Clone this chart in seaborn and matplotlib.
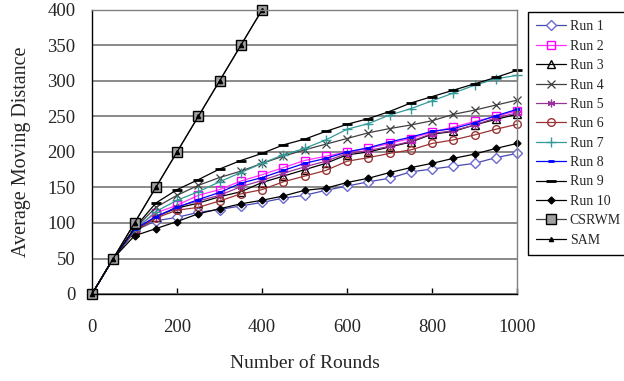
import matplotlib
matplotlib.use('Agg')
import matplotlib.pyplot as plt
import seaborn as sns

# rounds sampled every 50
rounds = [0, 50, 100, 150, 200, 250, 300, 350, 400, 450, 500,
          550, 600, 650, 700, 750, 800, 850, 900, 950, 1000]
rounds_short = [0, 50, 100, 150, 200, 250, 300, 350, 400]

run1 = [0, 50, 89, 103, 108, 115, 119, 124, 129, 135, 139,
        146, 152, 158, 163, 172, 176, 180, 184, 192, 198]
run2 = [0, 50, 92, 114, 125, 139, 147, 159, 168, 178, 188,
        194, 200, 205, 212, 219, 228, 235, 243, 250, 258]
run3 = [0, 50, 88, 109, 121, 128, 137, 144, 157, 166, 175,
        184, 196, 200, 207, 214, 225, 229, 238, 246, 253]
run4 = [0, 50, 92, 122, 139, 153, 164, 173, 184, 194, 203,
        211, 219, 227, 233, 238, 244, 253, 259, 266, 273]
run5 = [0, 50, 90, 108, 123, 131, 139, 151, 160, 170, 179,
        187, 198, 202, 208, 215, 226, 230, 238, 248, 255]
run6 = [0, 50, 88, 107, 118, 122, 131, 141, 147, 158, 166,
        174, 187, 192, 198, 203, 212, 217, 224, 232, 239]
run7 = [0, 50, 90, 116, 132, 144, 158, 171, 184, 196, 205,
        217, 232, 240, 252, 261, 272, 283, 294, 303, 308]
run8 = [0, 50, 91, 109, 122, 133, 143, 156, 164, 174, 184,
        191, 200, 206, 214, 221, 229, 233, 241, 251, 260]
run9 = [0, 50, 93, 128, 147, 161, 176, 188, 198, 210, 218,
        229, 239, 247, 257, 269, 278, 287, 296, 305, 315]
run10 = [0, 50, 82, 92, 102, 113, 120, 127, 132, 138, 146,
         149, 157, 163, 171, 178, 184, 191, 197, 205, 212]
csrwm = [0, 50, 100, 150, 200, 250, 300, 350, 400]
sam = [0, 50, 100, 150, 200, 250, 300, 350, 400]

series = [
    ('Run 1', rounds, run1, dict(color='#4848B0', marker='D', mfc='white', mec='#6A6AD0', ms=5)),
    ('Run 2', rounds, run2, dict(color='#FF33FF', marker='s', mfc='none', mec='#FF00FF', ms=5.5)),
    ('Run 3', rounds, run3, dict(color='black', marker='^', mfc='none', mec='black', ms=5.5)),
    ('Run 4', rounds, run4, dict(color='#404040', marker='x', mec='#404040', ms=5.5, mew=0.9)),
    ('Run 5', rounds, run5, dict(color='#993399', marker=(6, 2, 0), mec='#993399', ms=5.5, mew=0.9)),
    ('Run 6', rounds, run6, dict(color='#993333', marker='o', mfc='none', mec='#993333', ms=5.5)),
    ('Run 7', rounds, run7, dict(color='#339999', marker='+', mec='#339999', ms=6.5, mew=1)),
    ('Run 8', rounds, run8, dict(color='#0000FF', marker='_', mec='#0000FF', ms=4, mew=2)),
    ('Run 9', rounds, run9, dict(color='black', marker='_', mec='black', ms=6.5, mew=2)),
    ('Run 10', rounds, run10, dict(color='black', marker='D', mfc='black', mec='black', ms=3.5)),
    ('CSRWM', rounds_short, csrwm, dict(color='#404040', marker='s', mfc='#A0A0A0', mec='black', ms=6.5)),
    ('SAM', rounds_short, sam, dict(color='black', marker='^', mfc='black', mec='black', ms=3)),
]

sns.set_theme(style='white')
plt.rcParams['font.family'] = ['Liberation Serif', 'DejaVu Serif']

fig = plt.figure(figsize=(6.24, 3.81), dpi=100)
ax = fig.add_axes([92 / 624, 1 - 294 / 381, 425 / 624, 284 / 381])

for name, xs, ys, style in series:
    sns.lineplot(x=xs, y=ys, ax=ax, label=name, linewidth=0.9,
                 mew=style.pop('mew', 1.0), clip_on=False, legend=False, **style)

ax.set_xlim(0, 1000)
ax.set_ylim(0, 400)
ax.set_xticks(range(0, 1001, 200))
ax.set_yticks(range(0, 401, 50))
ax.yaxis.grid(True, color='#808080', linewidth=1.3)
ax.xaxis.grid(False)
ax.set_axisbelow(True)
ax.tick_params(axis='x', direction='in', length=4, width=1, color='black',
               labelsize=13.5, pad=18, bottom=True)
ax.tick_params(axis='y', length=0, labelsize=13.5, pad=12)
for side in ['left', 'bottom']:
    ax.spines[side].set_color('black')
    ax.spines[side].set_linewidth(1)
for side in ['top', 'right']:
    ax.spines[side].set_color('#808080')
    ax.spines[side].set_linewidth(1)

ax.set_xlabel('Number of Rounds', fontsize=14, labelpad=14)
ax.set_ylabel('Average Moving Distance', fontsize=14.5, labelpad=12)

handles, labels = ax.get_legend_handles_labels()
leg = fig.legend(handles, labels, loc='upper left',
                 bbox_to_anchor=(528 / 624, 1 - 12 / 381),
                 fontsize=10, frameon=True, fancybox=False, framealpha=1,
                 edgecolor='black', handlelength=2.1, labelspacing=0.46,
                 borderpad=0.6, handletextpad=0.3, borderaxespad=0)
leg.get_frame().set_linewidth(1)

fig.savefig('out.png', dpi=100)
